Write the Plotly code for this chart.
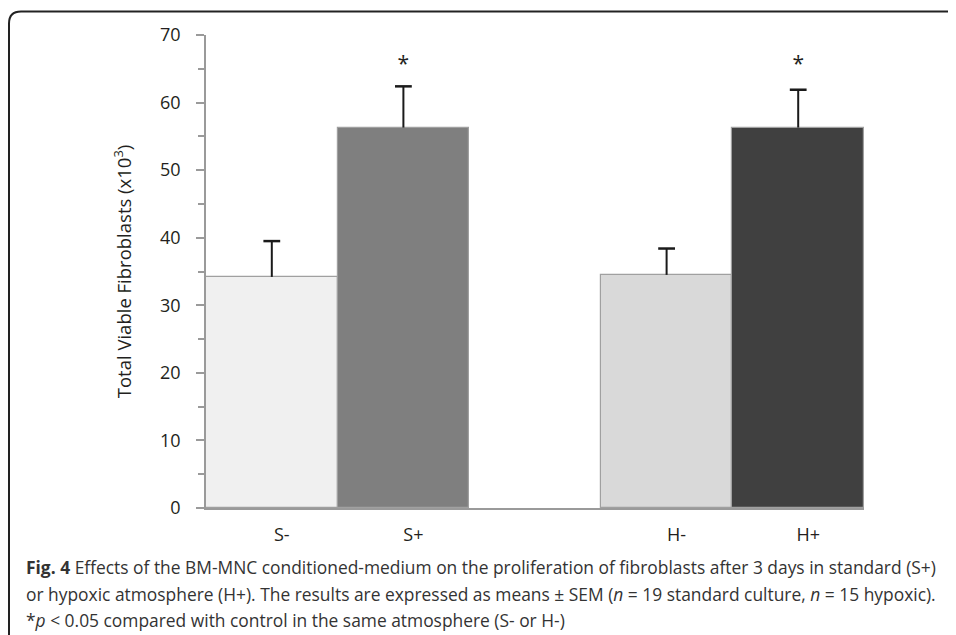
import plotly.graph_objects as go

categories = ["S-", "S+", " ", "H-", "H+"]
groups = ["S-", "S+", "H-", "H+"]
means = [34.2, 56.3, 34.5, 56.3]
sem = [5.3, 6.1, 3.9, 5.6]
colors = ["#f0f0f0", "#7f7f7f", "#d9d9d9", "#404040"]
sig = ["", "*", "", "*"]
sig_y = 65.4

FONT = "Open Sans"
TXT = "#231f20"

fig = go.Figure()
fig.add_trace(go.Bar(
    x=groups, y=means,
    marker=dict(color=colors, line=dict(color="#a0a0a0", width=1.2)),
    showlegend=False, hoverinfo="skip",
))

# error bars (upper half only, no cap at the bar top)
ex, ey = [], []
for g, m, s in zip(groups, means, sem):
    ex += [g, g, None]
    ey += [m, m + s, None]
fig.add_trace(go.Scatter(x=ex, y=ey, mode="lines", line=dict(color="#1a1a1a", width=2),
                         showlegend=False, hoverinfo="skip"))
fig.add_trace(go.Scatter(x=groups, y=[m + s for m, s in zip(means, sem)], mode="markers",
                         marker=dict(symbol="line-ew", size=12,
                                     line=dict(color="#1a1a1a", width=2.5)),
                         showlegend=False, hoverinfo="skip"))

sx = [g for g, s in zip(groups, sig) if s]
st = [s for s in sig if s]
fig.add_trace(go.Scatter(
    x=sx, y=[sig_y] * len(sx), mode="text", text=st,
    textfont=dict(family=FONT, size=21, color=TXT),
    showlegend=False, hoverinfo="skip",
))

# page has an 8px body margin: figure coordinates = screen - 8
W, H = 948, 627
l, r, t, b = 198, 92, 27, 127

fig.update_layout(
    width=W, height=H,
    margin=dict(l=l, r=r, t=t, b=b),
    paper_bgcolor="white", plot_bgcolor="white",
    bargap=0,
    font=dict(family=FONT, color=TXT),
    xaxis=dict(type="category", categoryorder="array", categoryarray=categories,
               range=[-0.5, 4.5], showgrid=False, zeroline=False,
               showline=True, linecolor="#9a9a9a", linewidth=1.5,
               ticks="", tickfont=dict(size=18, color=TXT), ticklabelshift=10,
               ticklabelstandoff=10),
    yaxis=dict(range=[0, 70], tickvals=[0, 10, 20, 30, 40, 50, 60, 70],
               showgrid=False, zeroline=False, showline=True,
               linecolor="#9a9a9a", linewidth=1.5,
               ticks="outside", ticklen=8, tickcolor="#9a9a9a", tickwidth=1.5,
               minor=dict(tickvals=[5, 15, 25, 35, 45, 55, 65], ticks="outside",
                          ticklen=6, tickcolor="#9a9a9a", tickwidth=1.5),
               tickfont=dict(size=18, color=TXT), ticklabelstandoff=12,
               title=dict(text="Total Viable Fibroblasts (x10<sup>3</sup>)",
                          font=dict(size=18.5, color=TXT), standoff=24)),
)

pw, ph = W - l - r, H - t - b
def px(x): return (x - l) / pw
def py(y): return (H - b - y) / ph

x0, y0, rad = 1, 3.5, 12
path = (f"M {px(x0)} {py(H+20)} L {px(x0)} {py(y0+rad)} "
        f"Q {px(x0)} {py(y0)} {px(x0+rad)} {py(y0)} L {px(W+20)} {py(y0)}")
fig.add_shape(type="path", xref="paper", yref="paper", path=path,
              line=dict(color="#222", width=2))

caption = [
    "<b>Fig. 4</b> Effects of the BM-MNC conditioned-medium on the proliferation of fibroblasts after 3 days in standard (S+)",
    "or hypoxic atmosphere (H+). The results are expressed as means ± SEM (<i>n</i> = 19 standard culture, <i>n</i> = 15 hypoxic).",
    "*<i>p</i> < 0.05 compared with control in the same atmosphere (S- or H-)",
]
for i, line in enumerate(caption):
    fig.add_annotation(text=line, xref="paper", yref="paper",
                       x=px(16), y=py(559 + i * 26.5), xanchor="left", yanchor="middle",
                       showarrow=False, font=dict(family=FONT, size=17.4, color="#333"))

fig.write_html("out.html")
